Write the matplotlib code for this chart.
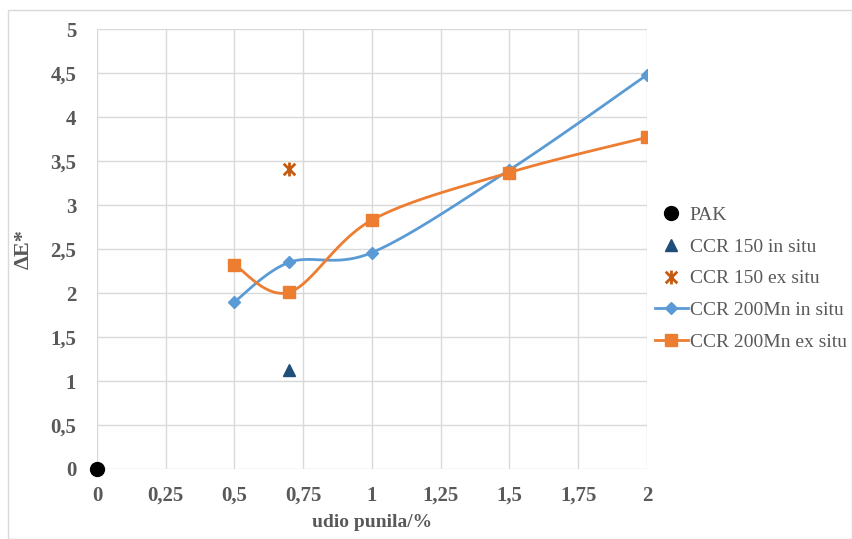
import numpy as np
import matplotlib
matplotlib.use("Agg")
from matplotlib import pyplot as plt
from matplotlib.path import Path
from matplotlib.patches import Rectangle

# data
pak_x = [0]
pak_y = [0]
ccr150_in_x = [0.7]
ccr150_in_y = [1.13]
ccr150_ex_x = [0.7]
ccr150_ex_y = [3.41]
mn_in_x = [0.5, 0.7, 1.0, 1.5, 2.0]
mn_in_y = [1.90, 2.35, 2.46, 3.40, 4.48]
mn_ex_x = [0.5, 0.7, 1.0, 1.5, 2.0]
mn_ex_y = [2.32, 2.01, 2.83, 3.37, 3.77]

x_ticks = [0, 0.25, 0.5, 0.75, 1, 1.25, 1.5, 1.75, 2]
y_ticks = [0, 0.5, 1, 1.5, 2, 2.5, 3, 3.5, 4, 4.5, 5]


def fmt(v):
    s = ('%g' % v)
    return s.replace('.', ',')


def smooth(xs, ys, n=30):
    # excel-like smoothed line (bezier through the points)
    p = np.column_stack([xs, ys]).astype(float)
    out = [p[0]]
    for i in range(len(p) - 1):
        p0 = p[i - 1] if i > 0 else p[i]
        p3 = p[i + 2] if i + 2 < len(p) else p[i + 1]
        c1 = p[i] + (p[i + 1] - p0) / 6
        c2 = p[i + 1] - (p3 - p[i]) / 6
        t = np.linspace(0, 1, n)[1:, None]
        seg = ((1 - t) ** 3) * p[i] + 3 * ((1 - t) ** 2) * t * c1 + 3 * (1 - t) * t ** 2 * c2 + t ** 3 * p[i + 1]
        out.extend(seg)
    out = np.array(out)
    return out[:, 0], out[:, 1]


star = Path([(-1, -1), (1, 1), (-1, 1), (1, -1), (0, -1.2), (0, 1.2)],
            [Path.MOVETO, Path.LINETO, Path.MOVETO, Path.LINETO, Path.MOVETO, Path.LINETO])

plt.rcParams['font.family'] = ['Liberation Serif', 'DejaVu Serif']
gray = '#595959'
blue = '#5b9bd5'
orange = '#ed7d31'

fig = plt.figure(figsize=(8.53, 5.39), dpi=100)
fig.patches.append(Rectangle((0.009, 0.0), 0.99, 0.982, transform=fig.transFigure,
                             fill=False, edgecolor='#d9d9d9', linewidth=1))
ax = fig.add_axes([0.1137, 0.1299, 0.6448, 0.8161])

ax.plot(pak_x, pak_y, 'o', color='black', markersize=10, clip_on=False, zorder=5, label='PAK')
ax.plot(ccr150_in_x, ccr150_in_y, '^', color='#1f4e79', markersize=8, linestyle='none',
        label='CCR 150 in situ')
ax.plot(ccr150_ex_x, ccr150_ex_y, marker=star, color='#c55a11', markersize=10,
        markeredgewidth=2, linestyle='none', label='CCR 150 ex situ')

sx, sy = smooth(mn_in_x, mn_in_y)
ax.plot(sx, sy, color=blue, linewidth=2)
ax.plot(mn_in_x, mn_in_y, 'D', color=blue, markersize=6)
sx, sy = smooth(mn_ex_x, mn_ex_y)
ax.plot(sx, sy, color=orange, linewidth=2)
ax.plot(mn_ex_x, mn_ex_y, 's', color=orange, markersize=8)

# legend handles for the line series
ax.plot([], [], color=blue, linewidth=2, marker='D', markersize=6, label='CCR 200Mn in situ')
ax.plot([], [], color=orange, linewidth=2, marker='s', markersize=8, label='CCR 200Mn ex situ')

ax.set_xlim(0, 2)
ax.set_ylim(0, 5)
ax.set_xticks(x_ticks)
ax.set_yticks(y_ticks)
ax.set_xticklabels([fmt(v) for v in x_ticks])
ax.set_yticklabels([fmt(v) for v in y_ticks])
ax.tick_params(length=0, labelsize=15, colors=gray)
ax.tick_params(axis='y', pad=15)
ax.tick_params(axis='x', pad=12)
for lab in ax.get_xticklabels() + ax.get_yticklabels():
    lab.set_fontweight('bold')
ax.grid(True, color='#d9d9d9', linewidth=1)
ax.set_axisbelow(True)
for s in ax.spines.values():
    s.set_visible(False)

ax.set_xlabel('udio punila/%', fontsize=14, fontweight='bold', color=gray, labelpad=6)
ax.set_ylabel('ΔE*', fontsize=16, fontweight='bold', color=gray, labelpad=12)

handles, labels = ax.get_legend_handles_labels()
ax.legend(handles, labels, loc='center left', bbox_to_anchor=(0.982, 0.433), frameon=False,
          fontsize=14, labelcolor=gray, handlelength=1.7, handletextpad=0.1,
          labelspacing=0.72)

fig.savefig('out.png', dpi=100)
